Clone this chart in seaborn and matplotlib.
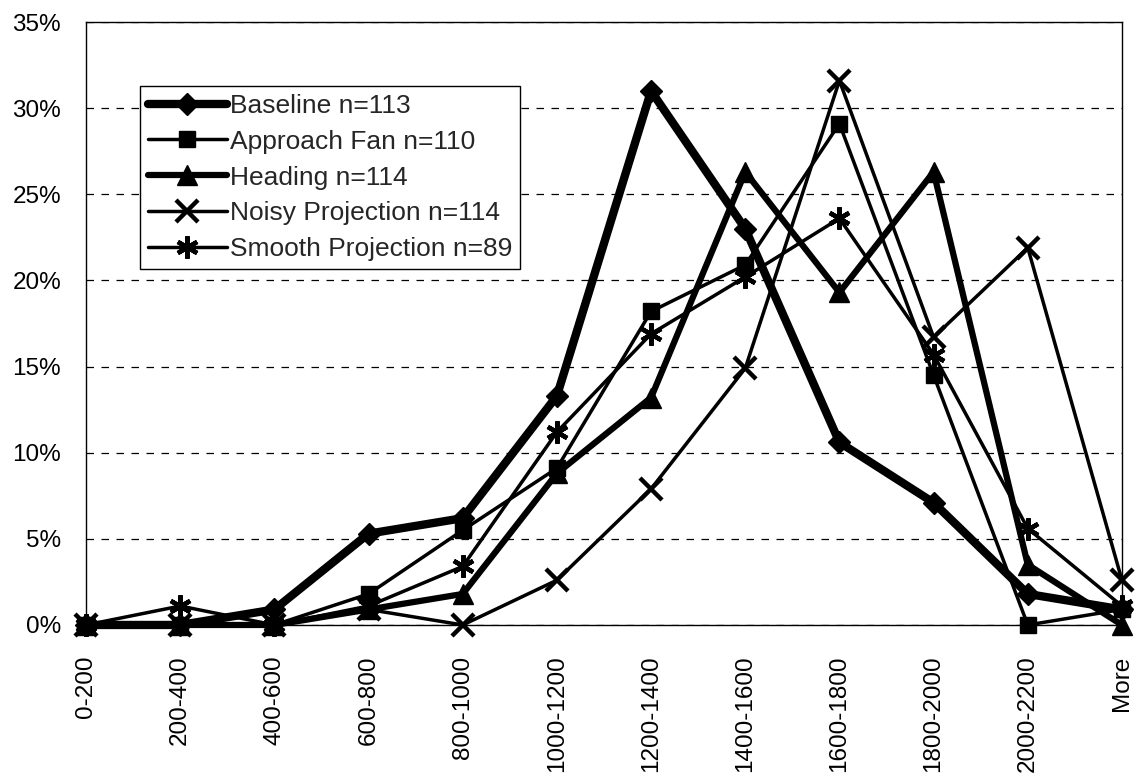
import matplotlib
matplotlib.use("Agg")
import matplotlib.pyplot as plt
import seaborn as sns

# Share of flights per distance bin (%)
categories = [
    "0-200", "200-400", "400-600", "600-800", "800-1000", "1000-1200",
    "1200-1400", "1400-1600", "1600-1800", "1800-2000", "2000-2200", "More",
]
baseline = [0, 0, 0.9, 5.3, 6.2, 13.3, 31.0, 23.0, 10.6, 7.1, 1.8, 0.9]
approach_fan = [0, 0, 0, 1.8, 5.5, 9.1, 18.2, 20.9, 29.1, 14.5, 0, 0.9]
heading = [0, 0, 0, 0.9, 1.8, 8.8, 13.2, 26.3, 19.3, 26.3, 3.5, 0]
noisy = [0, 0, 0, 0.9, 0, 2.6, 7.9, 14.9, 31.6, 16.7, 21.9, 2.6]
smooth = [0, 1.1, 0, 1.1, 3.4, 11.2, 16.9, 20.2, 23.6, 15.7, 5.6, 1.1]

labels = [
    "Baseline n=113",
    "Approach Fan n=110",
    "Heading n=114",
    "Noisy Projection n=114",
    "Smooth Projection n=89",
]
y_ticks = [0, 5, 10, 15, 20, 25, 30, 35]

sns.set_style("white")
plt.rcParams["font.family"] = ["Liberation Sans", "DejaVu Sans"]

fig = plt.figure(figsize=(11.35, 7.73), dpi=100)
ax = fig.add_axes([0.0758, 0.1915, 0.9127, 0.78])

# (values, marker, markersize, linewidth, markeredgewidth)
styles = [
    (baseline, "D", 11, 6.0, 1),
    (approach_fan, "s", 12, 2.5, 1),
    (heading, "^", 14, 4.5, 1),
    (noisy, "x", 16, 2.5, 3.2),
    (smooth, (6, 2, 0), 16, 2.5, 3.2),
]

for (vals, mk, ms, lw, mew), name in zip(styles, labels):
    sns.lineplot(
        x=categories,
        y=vals,
        ax=ax,
        sort=False,
        color="black",
        linewidth=lw,
        marker=mk,
        markersize=ms,
        markeredgewidth=mew,
        markeredgecolor="black",
        markerfacecolor="black",
        label=name,
        clip_on=False,
    )

ax.set_xlim(0, len(categories) - 1)
ax.set_ylim(0, 35)
ax.set_yticks(y_ticks)
ax.set_yticklabels([f"{v}%" for v in y_ticks])
ax.set_xticks(range(len(categories)))
ax.set_xticklabels(categories, rotation=90)
ax.set_xlabel("")
ax.set_ylabel("")

ax.yaxis.grid(True, color="black", linestyle=(0, (6, 6)), linewidth=0.9)
ax.xaxis.grid(False)
for s in ax.spines.values():
    s.set_color("black")
    s.set_linewidth(1.0)

ax.tick_params(axis="both", direction="inout", length=10, width=1,
               color="black", labelsize=17.5, labelcolor="black")
ax.tick_params(axis="x", pad=17)
ax.tick_params(axis="y", pad=13)

handles, labs = ax.get_legend_handles_labels()
leg = ax.legend(
    handles, labs,
    loc="upper left",
    bbox_to_anchor=(0.052, 0.894),
    borderaxespad=0,
    frameon=True,
    fancybox=False,
    edgecolor="black",
    framealpha=1,
    handlelength=3.0,
    handletextpad=0.1,
    labelspacing=0.45,
    borderpad=0.3,
    fontsize=19,
)
leg.get_frame().set_linewidth(1.0)

fig.savefig("out.png", dpi=100)
